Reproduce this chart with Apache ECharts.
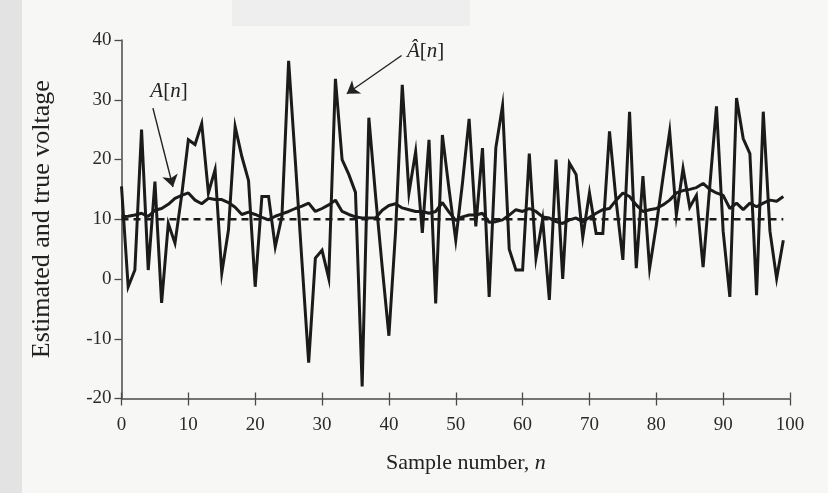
<!DOCTYPE html>
<html><head><meta charset="utf-8">
<script src="https://cdn.jsdelivr.net/npm/echarts@6/dist/echarts.min.js"></script>
<style>
html,body{margin:0;padding:0;background:#f7f7f6;}
#strip{position:absolute;left:0;top:0;width:22px;height:493px;background:#e3e3e3;}
#topbox{position:absolute;left:232px;top:0;width:238px;height:26px;background:#eeeeee;}
#chart{position:absolute;left:0;top:0;width:828px;height:493px;}
</style></head><body>
<div id="strip"></div>
<div id="topbox"></div>
<div id="chart"></div>
<script>
// Estimated voltage Â[n] (jagged curve), n = 0..99
const estimated = [
  15.5, -1.3, 1.5, 25, 1.5, 16.3, -4, 9.3, 6, 14,
  23.3, 22.5, 26, 14.4, 18.3, 1, 8.2, 25.5, 20.5, 16.5,
  -1.3, 13.8, 13.8, 5.4, 10.5, 36.5, 19.8, 2.8, -14, 3.5,
  4.8, 0.1, 33.5, 20, 17.5, 14.5, -18, 27, 14, 2,
  -9.5, 8, 32.5, 14.4, 21.3, 7.7, 23.3, -4.1, 24.1, 15,
  6.5, 16, 26.8, 8.8, 21.9, -3, 22, 29, 5, 1.5,
  1.5, 21, 3.5, 10, -3.5, 20, 0, 19.4, 17.5, 7,
  14.4, 7.6, 7.6, 24.7, 13, 3.2, 28, 1.8, 17.2, 1.8,
  9, 17, 24.7, 10.7, 18.5, 12, 14, 2, 15.5, 28.9,
  8, -3, 30.3, 23.5, 21, -2.7, 28, 8, 0.1, 6.5
];
// True voltage A[n] (smooth curve), n = 0..99
const trueVoltage = [
  10.4, 10.5, 10.7, 11, 10.5, 11.5, 11.8, 12.5, 13.5, 14,
  14.4, 13.2, 12.6, 13.5, 13.3, 13.3, 12.8, 12, 10.8, 11.2,
  10.8, 10.3, 9.9, 10.5, 10.9, 11.3, 11.8, 12.2, 12.7, 11.3,
  11.8, 12.4, 13.2, 11.3, 10.8, 10.4, 10.2, 10.2, 10.2, 11.5,
  12.3, 12.6, 11.9, 11.6, 11.3, 11.3, 11, 11.3, 12.8, 11.2,
  9.8, 10.4, 10.7, 10.7, 11, 9.5, 9.6, 9.9, 10.7, 11.6,
  11.3, 11.8, 11.3, 10.4, 10.2, 9.6, 9.3, 9.9, 10.2, 9.6,
  10.3, 11, 11.6, 11.8, 13.2, 14.4, 13.8, 12.4, 11.3, 11.6,
  11.8, 12.4, 13.2, 14.4, 14.8, 15, 15.3, 16, 15, 14.4,
  14, 11.8, 12.7, 11.6, 12.7, 12.1, 12.7, 13.2, 13, 13.8
];
const meanLevel = 10;             // dashed reference level
const xTicks = [0, 10, 20, 30, 40, 50, 60, 70, 80, 90, 100];
const yTicks = [-20, -10, 0, 10, 20, 30, 40];
const xTitle = 'Sample number, ';
const xTitleVar = 'n';
const yTitle = 'Estimated and true voltage';

const samples = estimated.map((_, i) => i);
const FONT = '"Liberation Serif", "DejaVu Serif", serif';
const INK = '#1b1b1b';
const AXIS = '#4a4a4a';

const chart = echarts.init(document.getElementById('chart'), null, {renderer: 'canvas'});

const baseX = {
  type: 'value', min: xTicks[0], max: xTicks[xTicks.length - 1], interval: xTicks[1] - xTicks[0],
  splitLine: {show: false}
};
const baseY = {
  type: 'value', min: yTicks[0], max: yTicks[yTicks.length - 1], interval: yTicks[1] - yTicks[0],
  splitLine: {show: false}
};

chart.setOption({
  animation: false,
  backgroundColor: 'transparent',
  grid: {left: 121.5, right: 38, top: 40, bottom: 94.5},
  xAxis: [
    Object.assign({}, baseX, {
      position: 'bottom',
      axisLine: {show: true, onZero: false, lineStyle: {color: AXIS, width: 1.5}},
      axisTick: {show: true, inside: false, length: 7, lineStyle: {color: AXIS, width: 1.3}},
      axisLabel: {show: true, margin: 17, color: '#2a2a2a', fontFamily: FONT, fontSize: 19}
    }),
    Object.assign({}, baseX, {
      position: 'bottom',
      axisLine: {show: false, onZero: false},
      axisTick: {show: true, inside: true, length: 6, lineStyle: {color: AXIS, width: 1.3}},
      axisLabel: {show: false}
    })
  ],
  yAxis: {
    ...baseY,
    axisLine: {show: true, onZero: false, lineStyle: {color: AXIS, width: 1.5}},
    axisTick: {show: true, inside: false, length: 7, lineStyle: {color: AXIS, width: 1.3}},
    axisLabel: {show: true, margin: 10, color: '#2a2a2a', fontFamily: FONT, fontSize: 19},
    name: yTitle,
    nameLocation: 'middle', nameGap: 66,
    nameTextStyle: {fontFamily: FONT, fontSize: 26, color: '#222'}
  },
  graphic: [{
    type: 'text', left: 386, top: 452,
    style: {
      text: '{rm|' + xTitle + '}{it|' + xTitleVar + '}',
      rich: {
        rm: {fontFamily: FONT, fontSize: 22, fill: '#222'},
        it: {fontFamily: FONT, fontStyle: 'italic', fontSize: 22, fill: '#222'}
      }
    }
  }],
  series: [
    {
      name: 'Â[n]', type: 'line', xAxisIndex: 0,
      data: samples.map(i => [i, estimated[i]]),
      showSymbol: false, symbol: 'none',
      lineStyle: {color: INK, width: 3, join: 'miter'},
      z: 3
    },
    {
      name: 'A[n]', type: 'line', xAxisIndex: 0,
      data: samples.map(i => [i, trueVoltage[i]]),
      showSymbol: false, symbol: 'none',
      lineStyle: {color: INK, width: 3},
      z: 4
    },
    {
      name: 'level', type: 'line', xAxisIndex: 0,
      data: [[samples[0], meanLevel], [samples[samples.length - 1], meanLevel]],
      showSymbol: false, symbol: 'none',
      lineStyle: {color: INK, width: 2.6, type: [7, 5]},
      z: 2,
      markLine: {
        silent: true, symbol: ['none', 'arrow'], symbolSize: 12,
        label: {show: false},
        lineStyle: {color: '#222', width: 1.4, type: 'solid'},
        data: [
          [{coord: [4.7, 28.6]}, {coord: [7.7, 15.4]}],
          [{coord: [41.9, 37.4]}, {coord: [33.7, 31.0]}]
        ]
      },
      markPoint: {
        silent: true, symbol: 'circle', symbolSize: 0,
        label: {
          show: true, position: 'inside', color: '#222',
          rich: {
            it: {fontFamily: FONT, fontStyle: 'italic', fontSize: 21, color: '#222'},
            rm: {fontFamily: FONT, fontSize: 21, color: '#222'}
          }
        },
        data: [
          {coord: [7.1, 31.4], label: {formatter: '{it|A}{rm|[}{it|n}{rm|]}'}},
          {coord: [45.5, 38.0], label: {formatter: '{it|Â}{rm|[}{it|n}{rm|]}'}}
        ]
      }
    }
  ]
});
</script>
</body></html>
